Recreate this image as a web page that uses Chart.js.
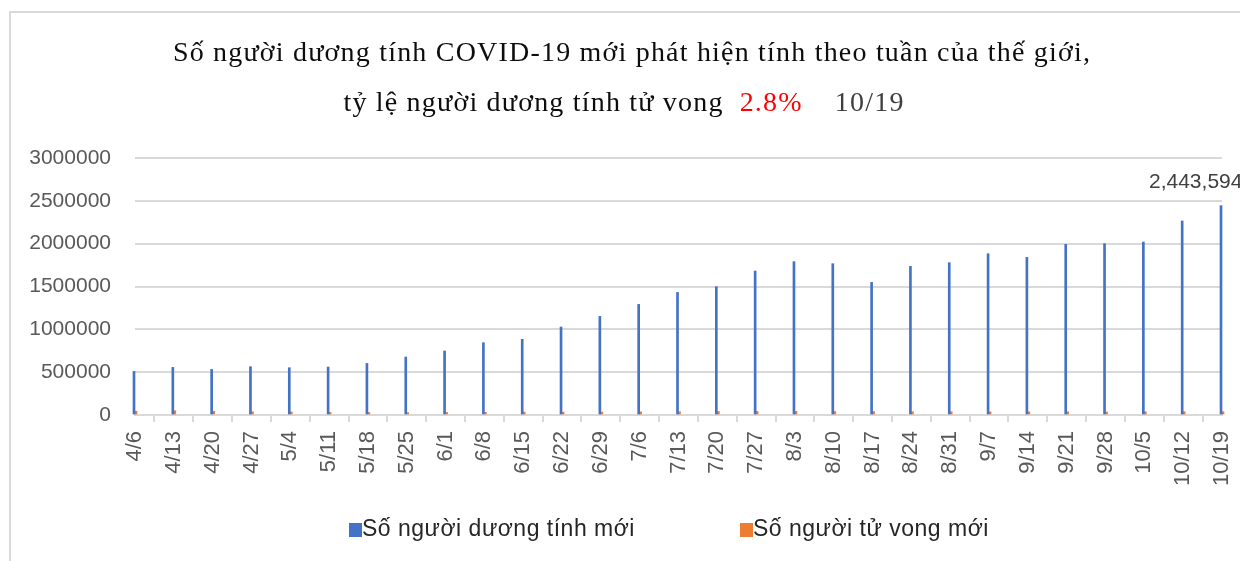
<!DOCTYPE html>
<html>
<head>
<meta charset="utf-8">
<script src="https://cdn.jsdelivr.net/npm/chart.js@4.4.1/dist/chart.umd.min.js"></script>
<style>
  html, body { margin: 0; padding: 0; background: #fff; width: 1240px; height: 561px; overflow: hidden; }
  #frame { position: absolute; left: 9px; top: 11px; width: 1250px; height: 570px; border: 2px solid #d9d9d9; box-sizing: border-box; }
  #wrap { position: absolute; left: 0; top: 0; width: 1240px; height: 561px; }
  .title { position: absolute; left: 0; width: 1264px; text-align: center; font-family: "Liberation Serif", "DejaVu Serif", serif; font-size: 28px; line-height: 32px; letter-spacing: 1.2px; color: #0d0d0d; white-space: nowrap; }
  #t1 { top: 36px; }
  #t2 { top: 86px; left: -8px; }
  #t2 .red { color: #ff0000; margin-left: 16px; }
  #t2 .date { color: #404040; margin-left: 32px; }
  .leg { position: absolute; top: 516px; font-family: "Liberation Sans", Arial, sans-serif; font-size: 23px; letter-spacing: 0.5px; color: #262626; white-space: nowrap; line-height: 24px; }
  .leg i { display: inline-block; width: 13px; height: 14px; vertical-align: -1px; margin-right: 0px; }
</style>
</head>
<body>
<div id="frame"></div>
<div id="wrap"><canvas id="c" width="1240" height="561"></canvas></div>
<div class="title" id="t1">Số người dương tính COVID-19 mới phát hiện tính theo tuần của thế giới,</div>
<div class="title" id="t2">tỷ lệ người dương tính tử vong<span class="red">2.8%</span><span class="date">10/19</span></div>
<div class="leg" style="left:349px"><i style="background:#4472C4"></i>Số người dương tính mới</div>
<div class="leg" style="left:740px"><i style="background:#ED7D31"></i>Số người tử vong mới</div>
<script>
const categories = ["4/6","4/13","4/20","4/27","5/4","5/11","5/18","5/25","6/1","6/8","6/15","6/22","6/29","7/6","7/13","7/20","7/27","8/3","8/10","8/17","8/24","8/31","9/7","9/14","9/21","9/28","10/5","10/12","10/19"];
const newCases = [509000,556000,532000,564000,552000,560000,602000,677000,747000,844000,883000,1027000,1151000,1291000,1431000,1498000,1681000,1790000,1766000,1548000,1735000,1778000,1883000,1840000,1992000,2000000,2019000,2265000,2443594];
const newDeaths = [45000,50000,44000,38000,35000,30000,29000,28000,30000,31000,33000,33000,35000,37000,38000,41000,42000,42000,41000,40000,38000,38000,36000,37000,37000,36000,38000,38000,39000];
const yTicks = [0,500000,1000000,1500000,2000000,2500000,3000000];
const seriesNames = ["Số người dương tính mới","Số người tử vong mới"];
const peakLabel = "2,443,594";

const labelPlugin = {
  id: 'peakLabel',
  afterDatasetsDraw(chart) {
    const meta = chart.getDatasetMeta(0);
    const el = meta.data[meta.data.length - 1];
    const ctx = chart.ctx;
    ctx.save();
    ctx.font = '21px "Liberation Sans", Arial, sans-serif';
    ctx.fillStyle = '#404040';
    ctx.textAlign = 'left';
    ctx.textBaseline = 'alphabetic';
    ctx.fillText(peakLabel, el.x - 72, el.y - 18);
    ctx.restore();
  }
};

const tickFont = { family: '"Liberation Sans", Arial, sans-serif', size: 21 };

new Chart(document.getElementById('c'), {
  type: 'bar',
  data: {
    labels: categories,
    datasets: [
      { label: seriesNames[0], data: newCases, backgroundColor: '#4472C4', barThickness: 2, clip: false },
      { label: seriesNames[1], data: newDeaths, backgroundColor: '#ED7D31', barThickness: 2, clip: false }
    ]
  },
  options: {
    responsive: false,
    animation: false,
    devicePixelRatio: 1,
    layout: { padding: { left: 11, right: 18, top: 158, bottom: 56 } },
    plugins: { legend: { display: false }, title: { display: false }, tooltip: { enabled: false } },
    scales: {
      x: {
        offset: false,
        grid: { display: true, drawOnChartArea: false, drawTicks: true, tickLength: 7, color: '#d9d9d9', lineWidth: 2 },
        border: { display: true, color: '#d9d9d9', width: 2 },
        ticks: { autoSkip: false, minRotation: 90, maxRotation: 90, padding: 9, color: '#595959', font: { family: '"Liberation Sans", Arial, sans-serif', size: 22 } },
        afterFit(scale) { scale.height = 90; scale.paddingLeft = 0; scale.paddingRight = 0; }
      },
      y: {
        min: 0, max: 3000000,
        afterBuildTicks(scale) { scale.ticks = yTicks.map(v => ({ value: v })); },
        grid: { color: '#d9d9d9', lineWidth: 2, drawTicks: false },
        border: { display: false },
        ticks: { padding: 24, color: '#595959', font: tickFont, callback: v => String(v) },
        afterFit(scale) { scale.width = 124; }
      }
    }
  },
  plugins: [labelPlugin]
});
</script>
</body>
</html>
